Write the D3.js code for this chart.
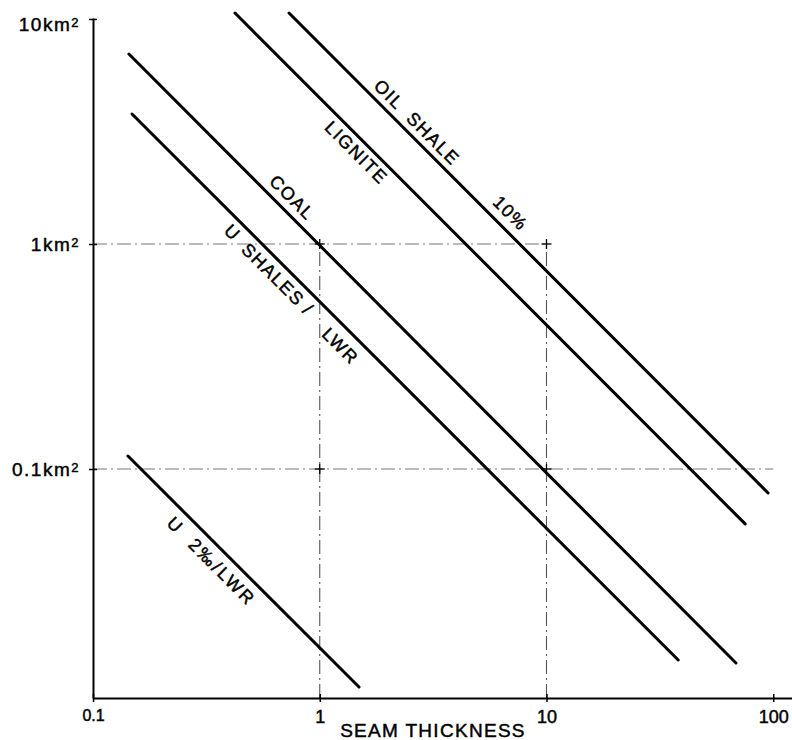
<!DOCTYPE html>
<html><head><meta charset="utf-8">
<script src="https://cdn.jsdelivr.net/npm/d3@7"></script>
<style>
body{margin:0;background:#fff}
text{font-family:"Liberation Sans",Arial,Helvetica,sans-serif;fill:#000;stroke:#000;stroke-width:0.45px}
</style>
</head><body>
<svg id="chart" width="792" height="740"></svg>
<script>
// ---- data ----
const xTickValues = [0.1, 1, 10, 100];
const xTickLabels = ["0.1", "1", "10", "100"];
const yTickValues = [10, 1, 0.1];
const yTickLabels = ["10", "1", "0.1"];
const yUnit = "km";
const yUnitSup = "2";
const xTitle = "SEAM THICKNESS";

const seriesNames = ["OIL SHALE", "LIGNITE", "COAL", "U SHALES / LWR", "U 2‰/LWR"];
// [thickness, area km²] at each end of every line
const seriesStart = [[0.732, 10.63], [0.423, 10.63], [0.144, 6.99], [0.1486, 3.78], [0.1426, 0.1142]];
const seriesEnd   = [[94.9, 0.0782], [75.2, 0.0570], [68.5, 0.01374], [38.1, 0.01416], [1.49, 0.01074]];

// dashed reference lines
const gridX = [1, 10];
const gridXTop = [1, 1];
const gridY = [1, 0.1];
const gridYRight = [10, 100];

// labels written along the lines
const labelText   = ["OIL  SHALE", "10%", "LIGNITE", "COAL", "U", "SHALES /", "LWR", "U  2‰/LWR"];
const labelSeries = [0, 0, 1, 2, 3, 3, 3, 4];
const labelAt     = [2.44, 6.21, 1.59, 0.682, 0.452, 0.72, 1.39, 0.372];

// ---- layout ----
const labelOffset = [13, 15, -13, 14, -13, -14, -17, -15.6];
const svg = d3.select("#chart");
const x = d3.scaleLog().domain([0.1, 121]).range([93, 792]);
const y = d3.scaleLog().domain([0.0096, 10.1]).range([698, 18]);
const yMin = y.domain()[0];
const xMin = x.domain()[0];

// grid lines
const dash = "14,4,2,4";
svg.append("g").selectAll("line.gx").data(gridX).join("line")
  .attr("x1", d => x(d)).attr("x2", d => x(d))
  .attr("y1", y(yMin)).attr("y2", (d, i) => y(gridXTop[i]))
  .attr("stroke", "#555").attr("stroke-width", 1.1).attr("stroke-dasharray", dash);
svg.append("g").selectAll("line.gy").data(gridY).join("line")
  .attr("x1", x(xMin)).attr("x2", (d, i) => x(gridYRight[i]))
  .attr("y1", d => y(d)).attr("y2", d => y(d))
  .attr("stroke", "#777").attr("stroke-width", 1.1).attr("stroke-dasharray", dash);

// crosses at grid intersections
const crosses = [];
gridX.forEach((gx, i) => gridY.forEach((gy, j) => {
  if (gy >= yMin && gy <= gridXTop[i] && gx <= gridYRight[j]) crosses.push([gx, gy]);
}));
const cg = svg.append("g").attr("stroke", "#000").attr("stroke-width", 1.3);
crosses.forEach(c => {
  cg.append("line").attr("x1", x(c[0]) - 5).attr("x2", x(c[0]) + 5).attr("y1", y(c[1])).attr("y2", y(c[1]));
  cg.append("line").attr("x1", x(c[0])).attr("x2", x(c[0])).attr("y1", y(c[1]) - 5).attr("y2", y(c[1]) + 5);
});

// axes
const xAxis = d3.axisBottom(x).tickValues(xTickValues)
  .tickFormat((d, i) => xTickLabels[i]).tickSizeInner(4).tickSizeOuter(0).tickPadding(8);
const gx = svg.append("g").attr("transform", `translate(0,${y(yMin)})`).call(xAxis);
gx.select(".domain").attr("stroke", "#000").attr("stroke-width", 2);
gx.selectAll(".tick line").attr("stroke", "#000").attr("stroke-width", 1.5).attr("y1", -4);
gx.selectAll(".tick text").attr("font-size", (d, i) => i === 0 ? "16px" : "18px")
  .attr("font-family", "Liberation Sans, Arial, sans-serif").attr("fill", "#000");

const yAxis = d3.axisLeft(y).tickValues(yTickValues)
  .tickSizeInner(4).tickSizeOuter(0).tickPadding(9).tickFormat(() => "");
const gy = svg.append("g").attr("transform", `translate(${x(xMin)},0)`).call(yAxis);
gy.select(".domain").attr("stroke", "#000").attr("stroke-width", 2);
gy.selectAll(".tick line").attr("stroke", "#000").attr("stroke-width", 1.5).attr("x1", 4);
gy.selectAll(".tick text").each(function (d, i) {
  const t = d3.select(this);
  t.text(null).attr("font-size", "19px").attr("letter-spacing", "1.5px")
    .attr("font-family", "Liberation Sans, Arial, sans-serif").attr("fill", "#000")
    .attr("dy", d === 10 ? "0.62em" : "0.36em");
  t.append("tspan").text(yTickLabels[i] + yUnit);
  t.append("tspan").attr("dy", "-0.3em").attr("font-size", "13px").text(yUnitSup);
});

// x title
svg.append("text").attr("x", 433).attr("y", 737).attr("text-anchor", "middle")
  .attr("font-size", "19px").attr("letter-spacing", "1.3px").text(xTitle);

// series lines
const line = d3.line().x(d => x(d[0])).y(d => y(d[1]));
svg.append("g").selectAll("path.s").data(seriesNames).join("path")
  .attr("class", "s")
  .attr("d", (d, i) => line([seriesStart[i], seriesEnd[i]]))
  .attr("fill", "none").attr("stroke", "#000").attr("stroke-width", 3).attr("stroke-linecap", "round");

// line labels
labelText.forEach((txt, k) => {
  const s = labelSeries[k];
  const a = seriesStart[s], b = seriesEnd[s];
  const t = (Math.log(labelAt[k]) - Math.log(a[0])) / (Math.log(b[0]) - Math.log(a[0]));
  const yv = Math.exp(Math.log(a[1]) + t * (Math.log(b[1]) - Math.log(a[1])));
  const px = x(labelAt[k]), py = y(yv);
  const dx = x(b[0]) - x(a[0]), dy = y(b[1]) - y(a[1]);
  const L = Math.hypot(dx, dy);
  const nx = dy / L, ny = -dx / L;
  const cx = px + nx * labelOffset[k], cy = py + ny * labelOffset[k];
  const ang = Math.atan2(dy, dx) * 180 / Math.PI;
  svg.append("text")
    .attr("transform", `translate(${cx},${cy}) rotate(${ang})`)
    .attr("text-anchor", "middle").attr("dominant-baseline", "central")
    .attr("font-size", "18px").attr("letter-spacing", k === 7 ? "2.5px" : "1.5px")
    .style("white-space", "pre")
    .text(txt);
});
</script>
</body></html>
